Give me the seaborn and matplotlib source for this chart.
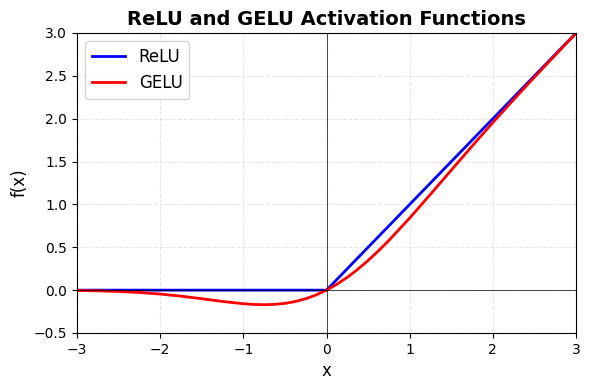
import matplotlib
matplotlib.use("Agg")
import matplotlib.pyplot as plt
import seaborn as sns
import pandas as pd

relu_x = [-3.0, 0.0, 3.0]
relu_y = [0.0, 0.0, 3.0]

gelu_x = [-3.0, -2.75, -2.5, -2.25, -2.0, -1.75, -1.5, -1.25, -1.0, -0.875, -0.75,
          -0.625, -0.5, -0.375, -0.25, -0.125, 0.0, 0.125, 0.25, 0.375, 0.5, 0.625,
          0.75, 1.0, 1.25, 1.5, 1.75, 2.0, 2.25, 2.5, 2.75, 3.0]
gelu_y = [-0.004, -0.0082, -0.0155, -0.0275, -0.0455, -0.0701, -0.1002, -0.1321,
          -0.1587, -0.1669, -0.1700, -0.1662, -0.1543, -0.1327, -0.1003, -0.0563,
          0.0, 0.0687, 0.1497, 0.2423, 0.3457, 0.4588, 0.5800, 0.8413, 1.1179,
          1.3998, 1.6799, 1.9545, 2.2225, 2.4845, 2.7418, 2.9960]

xticks = [-3, -2, -1, 0, 1, 2, 3]
yticks = [-0.5, 0.0, 0.5, 1.0, 1.5, 2.0, 2.5, 3.0]

df_relu = pd.DataFrame({"x": relu_x, "y": relu_y})
df_gelu = pd.DataFrame({"x": gelu_x, "y": gelu_y})

fig, ax = plt.subplots(figsize=(5.9, 3.9), dpi=100)
sns.lineplot(data=df_relu, x="x", y="y", ax=ax, color="blue", linewidth=2, label="ReLU")
sns.lineplot(data=df_gelu, x="x", y="y", ax=ax, color="red", linewidth=2, label="GELU")

ax.axhline(0, color="black", linewidth=0.5)
ax.axvline(0, color="black", linewidth=0.5)
ax.grid(True, linestyle="--", alpha=0.3)
ax.set_xlim(-3, 3)
ax.set_ylim(-0.5, 3)
ax.set_xticks(xticks)
ax.set_yticks(yticks)
ax.set_xlabel("x", fontsize=12)
ax.set_ylabel("f(x)", fontsize=12)
ax.set_title("ReLU and GELU Activation Functions", fontsize=14, fontweight="bold")
ax.legend(loc="upper left", fontsize=12)
fig.subplots_adjust(left=77/590, right=576/590, top=1-33/390, bottom=1-333/390)
fig.savefig("out.png", dpi=100)
